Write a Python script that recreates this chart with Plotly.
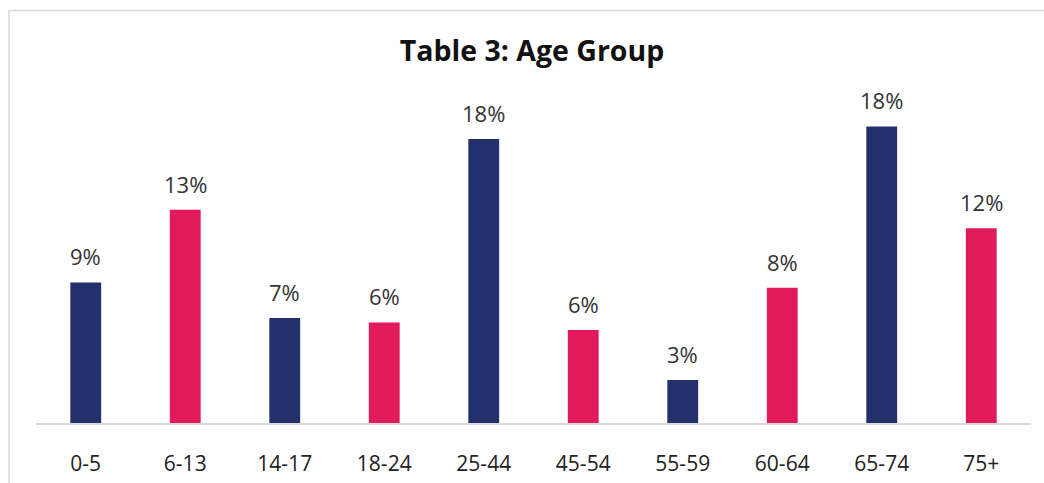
import plotly.graph_objects as go

categories = ["0-5", "6-13", "14-17", "18-24", "25-44", "45-54", "55-59", "60-64", "65-74", "75+"]
values = [8.73, 13.25, 6.52, 6.25, 17.64, 5.78, 2.67, 8.40, 18.42, 12.09]
colors_cycle = ["#24306B", "#E2195B"]

bar_colors = [colors_cycle[i % 2] for i in range(len(categories))]
labels = [f"{round(v):d}%" for v in values]

W, H = 1044, 483
L, R, T, B = 36, 13, 101, 60
PW, PH = W - L - R, H - T - B

fig = go.Figure()
fig.add_trace(go.Bar(
    x=categories, y=values,
    marker=dict(color=bar_colors, line=dict(width=0)),
    hoverinfo="skip",
))

for c, v, t in zip(categories, values, labels):
    fig.add_annotation(x=c, y=v, text=t, showarrow=False, yanchor="bottom",
                       yshift=9, font=dict(family="Open Sans", size=22, color="#333333"))

fig.add_shape(type="rect", xref="paper", yref="paper",
              x0=(9 - L) / PW, x1=1.1, y0=-0.3, y1=1 + (T - 10.5) / PH,
              line=dict(color="#d9d9d9", width=1.5), fillcolor="rgba(0,0,0,0)", layer="below")

fig.update_layout(
    template="none",
    width=W, height=H,
    margin=dict(l=L, r=R, t=T, b=B, autoexpand=False),
    paper_bgcolor="white", plot_bgcolor="white",
    showlegend=False,
    bargap=0.69,
    title=dict(text="<b>Table 3: Age Group</b>", x=532 / W, xanchor="center",
               y=1 - 51 / H, yref="container", yanchor="middle",
               font=dict(family="Open Sans", size=28.5, color="#111111")),
    xaxis=dict(showline=True, linecolor="#d9d9d9", linewidth=1.5, ticks="",
               ticklabelstandoff=21, showgrid=False, automargin=False,
               tickfont=dict(family="Open Sans", size=21, color="#222222")),
    yaxis=dict(range=[0, 20], visible=False, showgrid=False, zeroline=False,
               automargin=False),
)

fig.write_html("out.html", config={"displayModeBar": False},
               post_script="document.body.style.margin='0';document.body.style.overflow='hidden';")
